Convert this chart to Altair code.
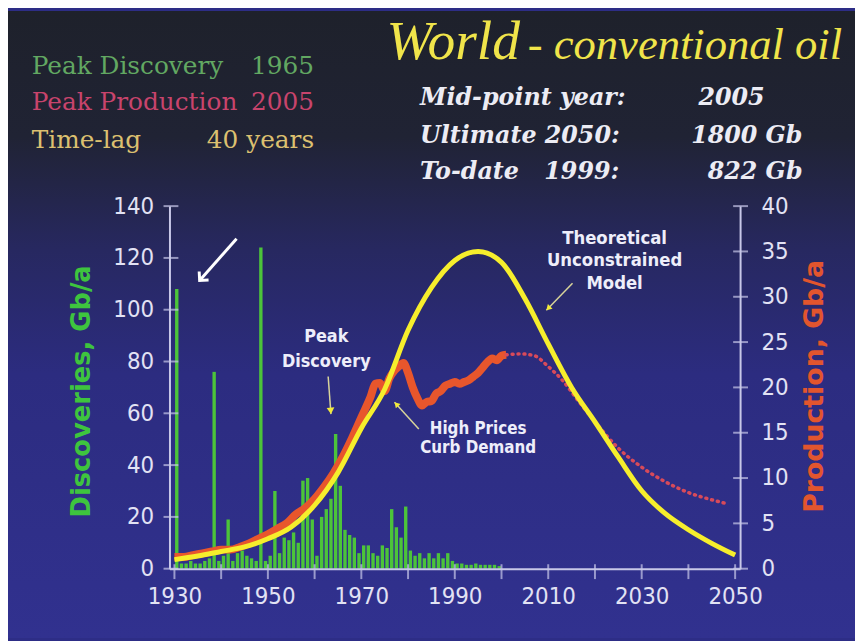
import altair as alt
import pandas as pd

# ---------------- data ----------------
disc_years = list(range(1930, 2000))
disc_values = [108, 2, 2, 3, 2, 2, 3, 4, 76, 3,
               5, 19, 3, 6, 7, 5, 4, 3, 124, 3,
               5, 30, 6, 12, 11, 14, 10, 34, 35, 19,
               5, 20, 23, 27, 52, 32, 15, 13, 12, 6,
               9, 9, 6, 5, 9, 8, 23, 16, 12, 24,
               7, 5, 6, 4, 6, 4, 6, 4, 6, 3,
               2, 2, 1.5, 1.5, 2, 1.5, 1.5, 1.5, 1.5, 1]

prod_years = [1930, 1932, 1934, 1936, 1938, 1940, 1942, 1944, 1946, 1948,
              1950, 1952, 1954, 1956, 1958, 1960, 1962, 1964, 1966, 1968,
              1970, 1972, 1973, 1974, 1975, 1976, 1977, 1978, 1979, 1980,
              1981, 1982, 1983, 1984, 1985, 1986, 1987, 1988, 1989, 1990,
              1991, 1992, 1993, 1994, 1995, 1996, 1997, 1998, 1999, 2000, 2001]
prod_values = [1.3, 1.3, 1.5, 1.7, 1.9, 2.1, 2.1, 2.4, 2.8, 3.3,
               3.8, 4.4, 5.0, 6.0, 6.7, 7.7, 9.0, 10.5, 12.3, 14.4,
               16.7, 19.0, 20.4, 20.5, 19.6, 21.0, 21.8, 22.3, 22.7, 21.6,
               20.0, 18.8, 18.0, 18.4, 18.5, 19.3, 19.6, 20.2, 20.4, 20.6,
               20.4, 20.6, 20.8, 21.2, 21.6, 22.2, 22.8, 23.2, 23.0, 23.5, 23.6]

proj_years = [2001, 2004, 2007, 2010, 2013, 2016, 2020, 2025, 2030, 2035, 2040, 2045, 2048]
proj_values = [23.6, 23.7, 23.5, 22.3, 20.8, 18.8, 16.2, 13.3, 11.2, 9.6, 8.4, 7.6, 7.2]

model_years = [1930, 1935, 1940, 1945, 1950, 1955, 1960, 1965, 1970, 1975, 1980, 1985,
               1990, 1995, 2000, 2005, 2010, 2015, 2020, 2025, 2030, 2035, 2040, 2045, 2050]
model_values = [1.0, 1.4, 1.9, 2.4, 3.3, 4.6, 7.0, 10.6, 15.5, 19.8, 26.3, 31.0,
                34.0, 35.0, 33.8, 29.8, 24.8, 20.0, 16.2, 12.3, 8.6, 6.1, 4.3, 2.8, 1.5]

x_ticks = [1930, 1940, 1950, 1960, 1970, 1980, 1990, 2000, 2010, 2020, 2030, 2040, 2050]
left_ticks = [0, 20, 40, 60, 80, 100, 120, 140]
right_ticks = [0, 5, 10, 15, 20, 25, 30, 35, 40]

disc_df = pd.DataFrame({"year": disc_years, "value": disc_values})
prod_df = pd.DataFrame({"year": prod_years, "value": prod_values})
proj_df = pd.DataFrame({"year": proj_years, "value": proj_values})
model_df = pd.DataFrame({"year": model_years, "value": model_values})
xt_df = pd.DataFrame({"year": x_ticks})
lt_df = pd.DataFrame({"v": left_ticks})
rt_df = pd.DataFrame({"v": right_ticks})
ONE = alt.Data(values=[{"a": 1}])

# ---------------- styling ----------------
W, H = 576, 366
AX = "#c8c8e8"
LAB = "#e2e2f4"
NARROW = "Liberation Sans Narrow, DejaVu Sans Condensed, sans-serif"
CONDB = "DejaVu Sans Condensed, Liberation Sans Narrow, sans-serif"

XS = alt.Scale(domain=[1930, 2050], nice=False)
YL = alt.Scale(domain=[0, 140], nice=False)
YR = alt.Scale(domain=[0, 40], nice=False)

x_axis = alt.Axis(values=x_ticks, format="d",
                  labelExpr="(datum.value - 1930) % 20 == 0 ? datum.label : ''",
                  ticks=False, tickSize=0, labelPadding=16, labelFont=NARROW,
                  labelFontSize=24, labelColor=LAB, domainColor=AX, domainWidth=2,
                  grid=False, labelOverlap=False, labelFlush=False, zindex=1)
left_axis = alt.Axis(orient="left", values=left_ticks, ticks=False, tickSize=0,
                     labelPadding=16, labelFont=NARROW, labelFontSize=24, labelColor=LAB,
                     domainColor=AX, domainWidth=2, grid=False, zindex=1)
right_axis = alt.Axis(orient="right", values=right_ticks, ticks=False, tickSize=0,
                      labelPadding=21, labelFont=NARROW, labelFontSize=24, labelColor=LAB,
                      domainColor=AX, domainWidth=2, grid=False, zindex=1)


def X(field):
    return alt.X(f"{field}:Q", scale=XS, axis=x_axis, title=None)


def XD(v):
    return alt.XDatum(v, scale=XS, axis=x_axis, title=None)


def YD(v):
    return alt.YDatum(v, scale=YL, axis=None)


# background gradient
bg = alt.Chart(ONE).mark_rect(color={
    "gradient": "linear", "x1": 0, "y1": 0, "x2": 0, "y2": 1,
    "stops": [{"offset": 0.0, "color": "#1e212b"},
              {"offset": 0.2, "color": "#202334"},
              {"offset": 0.38, "color": "#272860"},
              {"offset": 0.58, "color": "#2c2c80"},
              {"offset": 1.0, "color": "#31318f"}]}).encode(
    x=alt.value(-163), x2=alt.value(692), y=alt.value(-197), y2=alt.value(436))

bars = alt.Chart(disc_df).transform_calculate(xc="datum.year + 0.5").mark_bar(
    size=3.4, color="#4cc43a").encode(
    x=X("xc"), y=alt.Y("value:Q", scale=YL, axis=left_axis, title=None))

prod = alt.Chart(prod_df).mark_line(color="#e8562c", strokeWidth=8,
                                    interpolate="monotone").encode(
    x=X("year"), y=alt.Y("value:Q", scale=YR, axis=None))

proj = alt.Chart(proj_df).mark_line(color="#d84a5a", strokeWidth=3.5, strokeDash=[1, 5],
                                    strokeCap="round", interpolate="monotone").encode(
    x=X("year"), y=alt.Y("value:Q", scale=YR, axis=None))

model = alt.Chart(model_df).mark_line(color="#f6ee2c", strokeWidth=5,
                                      interpolate="monotone").encode(
    x=X("year"), y=alt.Y("value:Q", scale=YR, axis=right_axis, title=None))

xt = alt.Chart(xt_df).mark_tick(orient="vertical", size=15, thickness=2, color=AX).encode(
    x=X("year"), y=alt.value(369))
lt = alt.Chart(lt_df).mark_tick(orient="horizontal", size=15, thickness=2, color=AX).encode(
    y=alt.Y("v:Q", scale=YL, axis=None), x=alt.value(1.5))
rt = alt.Chart(rt_df).mark_tick(orient="horizontal", size=15, thickness=2, color=AX).encode(
    y=alt.Y("v:Q", scale=YR, axis=None), x=alt.value(576.5))

TRI = "M0,0 L-0.6,-1 L0.6,-1 Z"
CHEV = "M-0.9,-0.9 L0,0 L0.9,-0.9"


def arrow(x1, y1, x2, y2, angle, color, line_color, width=1.5, size=150, shape=TRI, filled=True):
    line = alt.Chart(ONE).mark_rule(color=line_color, strokeWidth=width).encode(
        x=XD(x1), y=YD(y1), x2=alt.X2Datum(x2), y2=alt.Y2Datum(y2))
    head = alt.Chart(ONE).mark_point(shape=shape, filled=filled, size=size, angle=angle,
                                     color=color, opacity=1, strokeWidth=width).encode(
        x=XD(x2), y=YD(y2))
    return [line, head]


def ann(lines, x, y, size=16, lh=22):
    return alt.Chart(ONE).mark_text(font=CONDB, fontWeight="bold", fontSize=size,
                                    color="#eeeefa", align="center", baseline="middle",
                                    lineHeight=lh).encode(
        x=XD(x), y=YD(y), text=alt.value(lines))


def ptext(t, x, y, color, size, font="DejaVu Serif", style="normal", weight="normal",
          align="left", baseline="alphabetic", angle=0):
    return alt.Chart(ONE).mark_text(font=font, fontSize=size, fontStyle=style,
                                    fontWeight=weight, color=color, align=align,
                                    baseline=baseline, angle=angle).encode(
        x=alt.value(x), y=alt.value(y), text=alt.value(t))


arrows = []
arrows += arrow(1962.9, 74.2, 1963.5, 59.7, 356, "#f2ea3a", "#d8d49a", 1.5, 170)
arrows += arrow(1982.3, 53.9, 1977.1, 64.3, 137, "#f2ea3a", "#d8d49a", 1.5, 120)
arrows += arrow(2015.2, 110.2, 2009.6, 99.8, 45, "#f2ea3a", "#d8d49a", 1.5, 120)
arrows += arrow(1943.3, 127.4, 1935.4, 111.3, 42, "#ffffff", "#ffffff", 3, 200, CHEV, False)

anns = [
    ann(["Peak", "Discovery"], 1962.5, 89.5, 18, 25),
    ann(["High Prices", "Curb Demand"], 1995, 53.9, 17, 19),
    ann(["Theoretical", "Unconstrained", "Model"], 2024.2, 127.8, 18.5, 23),
]

TIMES = "Liberation Serif, Times New Roman, serif"
texts = [
    ptext("Peak Discovery", -139, -133, "#62a862", 25),
    ptext("1965", 146, -133, "#62a862", 25, align="right"),
    ptext("Peak Production", -139, -97, "#c8446c", 25),
    ptext("2005", 146, -97, "#c8446c", 25, align="right"),
    ptext("Time-lag", -139, -59, "#dcc070", 25),
    ptext("40 years", 146, -59, "#dcc070", 25, align="right"),
    ptext("World", 219, -149, "#f0e44a", 56, font=TIMES, style="italic"),
    ptext("- conventional oil", 679, -149, "#f0e44a", 45, font=TIMES, style="italic",
          align="right"),
    ptext("Mid-point year:", 253, -102, "#ececf4", 24, style="italic", weight="bold"),
    ptext("2005", 534, -102, "#ececf4", 24, style="italic", weight="bold"),
    ptext("Ultimate 2050:", 253, -64, "#ececf4", 24, style="italic", weight="bold"),
    ptext("1800 Gb", 639, -64, "#ececf4", 24, style="italic", weight="bold", align="right"),
    ptext("To-date", 253, -27, "#ececf4", 24, style="italic", weight="bold"),
    ptext("1999:", 454, -27, "#ececf4", 24, style="italic", weight="bold", align="right"),
    ptext("822 Gb", 639, -27, "#ececf4", 24, style="italic", weight="bold", align="right"),
    ptext("Discoveries, Gb/a", -88, 187, "#3ec43e", 26, font="DejaVu Sans", weight="bold",
          align="center", baseline="middle", angle=270),
    ptext("Production, Gb/a", 652, 182, "#e2552e", 27, font="DejaVu Sans", weight="bold",
          align="center", baseline="middle", angle=270),
]

chart = alt.layer(bg, bars, prod, proj, model, xt, lt, rt, *arrows, *anns, *texts).resolve_scale(
    y="independent").properties(
    width=W, height=H, autosize=alt.AutoSizeParams(type="none"),
    padding={"left": 163, "top": 197, "right": 116, "bottom": 70},
    background="#2d2d86").configure_view(stroke=None)

chart.save("out.html", embed_options={"renderer": "svg", "actions": False})
